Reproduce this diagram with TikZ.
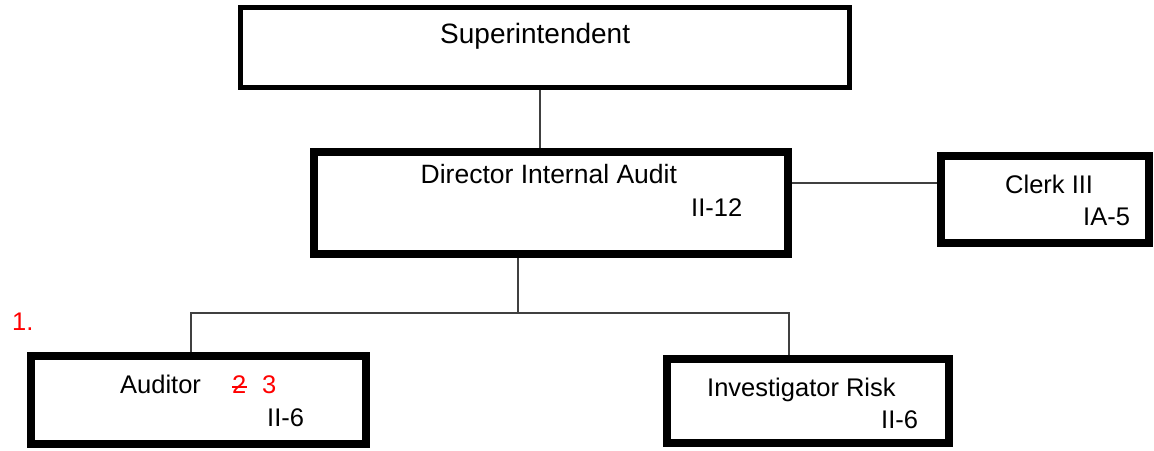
\documentclass[tikz,border=0pt]{standalone}
\usepackage{fontspec}
\setmainfont{Liberation Sans}
\begin{document}
\begin{tikzpicture}[x=1pt,y=-1pt,
  box/.style={draw=black, line width=8pt, fill=white, inner sep=0pt},
  topbox/.style={draw=black, line width=5pt, fill=white, inner sep=0pt},
  lbl/.style={inner sep=0pt, anchor=base west, font=\fontsize{25.5}{30}\selectfont},
  redlbl/.style={lbl, text=red},
  conn/.style={draw=black!75, line width=1.3pt}]
\useasboundingbox (0,0) rectangle (1154,450);
\fill[white] (0,0) rectangle (1154,450);
% boxes
\node[topbox, minimum width=609pt, minimum height=80pt] (sup) at (545,47.5) {};
\node[box, minimum width=473.7pt, minimum height=102pt] (dir) at (551,203) {};
\node[box, minimum width=208pt, minimum height=87pt] (clerk) at (1045,199.5) {};
\node[box, minimum width=335pt, minimum height=88pt] (aud) at (198.5,400) {};
\node[box, minimum width=282pt, minimum height=84pt] (inv) at (808,401) {};
% texts
\node[lbl, font=\fontsize{28}{32}\selectfont] (tsup) at (440,43.3) {Superintendent};
\node[lbl, font=\fontsize{26.5}{30}\selectfont] (tdir) at (420.5,183.3) {Director Internal Audit};
\node[lbl] (tdirg) at (691,216.7) {II-12};
\node[lbl] (tclerk) at (1005,193) {Clerk III};
\node[lbl] (tclerkg) at (1083,225) {IA-5};
\node[lbl] (taud) at (120,393) {Auditor};
\node[redlbl] (two) at (232,393) {2};
\node[redlbl] (three) at (262,393) {3};
\node[lbl] (taudg) at (267,426) {II-6};
\node[lbl] (tinv) at (707,396.7) {Investigator Risk};
\node[lbl] (tinvg) at (881,428) {II-6};
\node[redlbl] (one) at (12,330) {1.};
\draw[red, line width=1.3pt] ([yshift=6pt]two.base west) -- ([yshift=6pt]two.base east);
% connectors
\coordinate (j1) at (540,0);
\coordinate (j2) at (0,183);
\coordinate (j3) at (518,313);
\coordinate (ja) at (191,313);
\coordinate (ji) at (789,313);
\draw[conn] (j1 |- sup.south) -- (j1 |- dir.north);
\draw[conn] (dir.east |- j2) -- (clerk.west |- j2);
\draw[conn] (j3 |- dir.south) -- (j3);
\draw[conn] (ja |- aud.north) -- (ja) -- (ji) -- (ji |- inv.north);
\end{tikzpicture}
\end{document}
